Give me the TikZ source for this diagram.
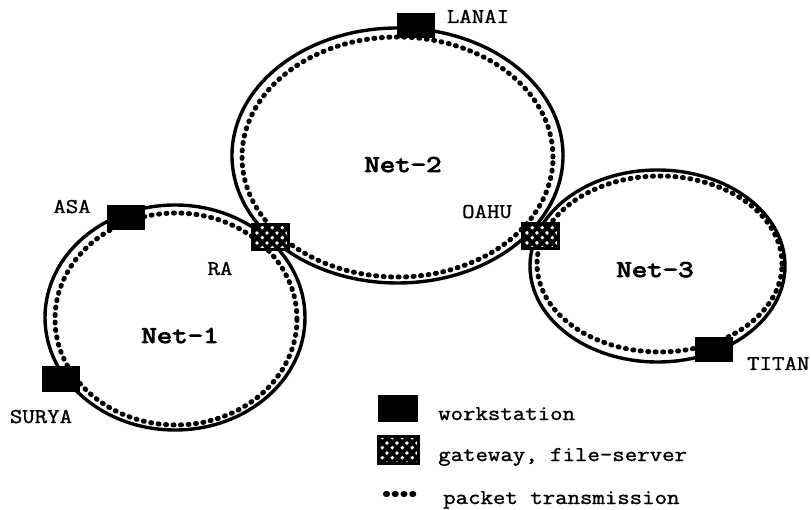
\documentclass[tikz,border=0pt]{standalone}
\usepackage{fontspec}
\usetikzlibrary{patterns.meta}
\newfontfamily\labfont[FakeStretch=1.15,FakeBold=1.3]{Latin Modern Mono}
\newfontfamily\netfont[FakeStretch=1.25,FakeBold=4]{Latin Modern Mono}
\tikzdeclarepattern{
  name=gwdots,
  type=uncolored,
  bottom left={(0pt,0pt)},
  top right={(10pt,10pt)},
  tile size={(10pt,10pt)},
  code={
    \fill (2.5pt,2.5pt) circle (2.1pt);
    \fill (7.5pt,7.5pt) circle (2.1pt);
  }
}
\tikzset{
  ringline/.style={line width=3.4pt},
  ringdots/.style={line width=5pt, line cap=round, dash pattern=on 1pt off 6.5pt},
  ws/.style={rectangle, fill=black, minimum width=38pt, minimum height=25pt, inner sep=0pt},
  gw/.style={rectangle, fill=black, minimum width=36pt, minimum height=25pt, inner sep=0pt,
    postaction={pattern=gwdots, pattern color=white},
    postaction={draw=black, line width=3pt}},
  lab/.style={inner sep=0pt, anchor=base, font=\labfont\fontsize{21pt}{23pt}\selectfont},
  netlab/.style={inner sep=0pt, anchor=base, font=\netfont\fontsize{24pt}{26pt}\selectfont}
}
\begin{document}
\begin{tikzpicture}[x=1pt,y=-1pt]
\useasboundingbox (0,0) rectangle (811,510);
% Net-1
\draw[ringline] (175,317.5) ellipse [x radius=130pt, y radius=112.5pt];
\draw[ringdots] (176,319) ellipse [x radius=121pt, y radius=106pt];
% Net-2
\draw[ringline] (397.5,155.5) ellipse [x radius=165.5pt, y radius=127.5pt];
\draw[ringdots] (397.5,157) ellipse [x radius=155.5pt, y radius=120pt];
% Net-3
\draw[ringline] (657.5,266) ellipse [x radius=127.5pt, y radius=96pt];
\draw[ringdots] (659.5,264) ellipse [x radius=122.5pt, y radius=88pt];
% workstations
\node[ws] (asa) at (126,217.5) {};
\node[ws] (lanai) at (416,25.5) {};
\node[ws] (surya) at (61,379) {};
\node[ws] (titan) at (713.5,349.5) {};
% gateways
\node[gw] (ra) at (270,237.5) {};
\node[gw] (oahu) at (540,236.5) {};
% labels
\node[lab] (tasa) at (72,213) {ASA};
\node[lab] (tra) at (220,275) {RA};
\node[lab] (tlanai) at (478,23) {LANAI};
\node[lab] (toahu) at (487,218) {OAHU};
\node[lab, anchor=base west] (ttitan) at (747,370) {TITAN};
\node[lab] (tsurya) at (41,423) {SURYA};
\node[netlab] (net1) at (180,343) {Net-1};
\node[netlab] (net2) at (403,172) {Net-2};
\node[netlab] (net3) at (655,277) {Net-3};
% legend
\node[ws, minimum width=40pt, minimum height=27pt] (lws) at (398,408.5) {};
\node[gw, minimum width=40pt, minimum height=27pt] (lgw) at (398,449.5) {};
\coordinate (ld1) at (386,494);
\coordinate (ld2) at (421,494);
\draw[line width=6pt, line cap=round, dash pattern=on 1pt off 7.75pt] (ld1) -- (ld2);
\node[lab, anchor=base west] (tws) at (438,420) {workstation};
\node[lab, anchor=base west] (tgw) at (438,461) {gateway, file-server};
\node[lab, anchor=base west] (tpk) at (443,504) {packet transmission};
\end{tikzpicture}
\end{document}
